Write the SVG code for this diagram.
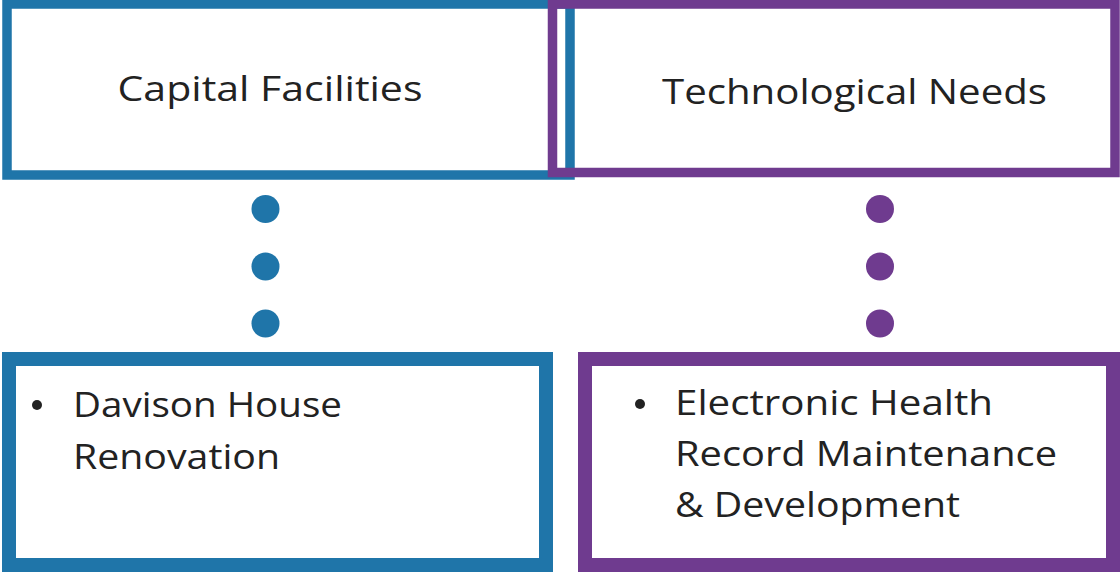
<svg xmlns="http://www.w3.org/2000/svg" width="1120" height="573" viewBox="0 0 1120 573">
<style>
.bg{fill:#ffffff}
.box{fill:none}
.blue{stroke:#1f75a9}
.purple{stroke:#6f3b8f}
.dblue{fill:#1f75a9}
.dpurple{fill:#6f3b8f}
.t{font-family:"Open Sans","Noto Sans","Liberation Sans",sans-serif;fill:#222222;font-size:35px;font-weight:500}
.bul{fill:#222222}
</style>
<rect class="bg" x="0" y="0" width="1120" height="573"/>
<g id="capital-facilities">
<rect class="box blue" x="7" y="4" width="563" height="171" stroke-width="9.5"/>
<text class="t" x="270" y="101" text-anchor="middle" textLength="305" lengthAdjust="spacingAndGlyphs">Capital Facilities</text>
</g>
<g id="technological-needs">
<rect class="box purple" x="552.5" y="4" width="562.5" height="168.5" stroke-width="9.5"/>
<text class="t" x="854.5" y="104" text-anchor="middle" textLength="385" lengthAdjust="spacingAndGlyphs">Technological Needs</text>
</g>
<g id="connectors">
<circle class="dblue" cx="265.5" cy="209" r="14"/>
<circle class="dblue" cx="265.5" cy="266.5" r="14"/>
<circle class="dblue" cx="265.5" cy="323.5" r="14"/>
<circle class="dpurple" cx="880" cy="209" r="14"/>
<circle class="dpurple" cx="880" cy="266.5" r="14"/>
<circle class="dpurple" cx="880" cy="323.5" r="14"/>
</g>
<g id="davison-house">
<rect class="box blue" x="9" y="359" width="537" height="206" stroke-width="14"/>
<circle class="bul" cx="37" cy="405" r="5"/>
<text class="t" x="73" y="417" textLength="269" lengthAdjust="spacingAndGlyphs">Davison House</text>
<text class="t" x="73" y="469" textLength="207" lengthAdjust="spacingAndGlyphs">Renovation</text>
</g>
<g id="electronic-health-record">
<rect class="box purple" x="585" y="359" width="528" height="206" stroke-width="14"/>
<circle class="bul" cx="640" cy="404" r="5"/>
<text class="t" x="675" y="415" textLength="318" lengthAdjust="spacingAndGlyphs">Electronic Health</text>
<text class="t" x="675" y="466" textLength="382" lengthAdjust="spacingAndGlyphs">Record Maintenance</text>
<text class="t" x="675" y="517" textLength="285" lengthAdjust="spacingAndGlyphs">&amp; Development</text>
</g>
</svg>
